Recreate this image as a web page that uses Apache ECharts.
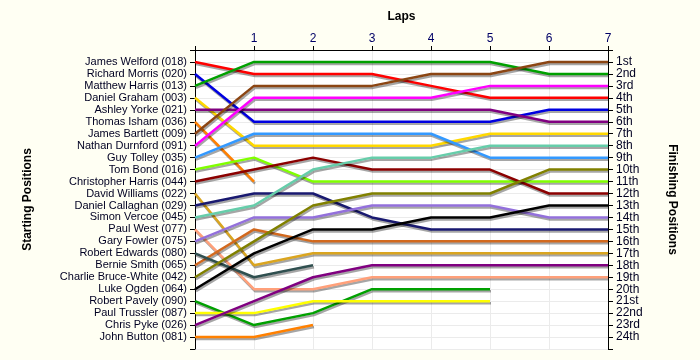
<!DOCTYPE html>
<html><head><meta charset="utf-8">
<script src="https://cdn.jsdelivr.net/npm/echarts@6/dist/echarts.min.js"></script>
<style>html,body{margin:0;padding:0;background:#FFFFF3;}#c{width:700px;height:360px;}</style>
</head><body><div id="c"></div>
<script>
const drivers = ["James Welford (018)","Richard Morris (020)","Matthew Harris (013)","Daniel Graham (003)","Ashley Yorke (021)","Thomas Isham (036)","James Bartlett (009)","Nathan Durnford (091)","Guy Tolley (035)","Tom Bond (016)","Christopher Harris (044)","David Williams (022)","Daniel Callaghan (029)","Simon Vercoe (045)","Paul West (077)","Gary Fowler (075)","Robert Edwards (080)","Bernie Smith (065)","Charlie Bruce-White (042)","Luke Ogden (064)","Robert Pavely (090)","Paul Trussler (087)","Chris Pyke (026)","John Button (081)"];
const finishLabels = ["1st","2nd","3rd","4th","5th","6th","7th","8th","9th","10th","11th","12th","13th","14th","15th","16th","17th","18th","19th","20th","21st","22nd","23rd","24th"];
const laps = [0,1,2,3,4,5,6,7];
// position of each driver after each lap (index = lap)
const positions = [
  [1,2,2,2,3,4,4,4],
  [2,6,6,6,6,6,5,5],
  [3,1,1,1,1,1,2,2],
  [4,8,8,8,8,7,7,7],
  [5,5,5,5,5,5,6,6],
  [6,11],
  [7,3,3,3,2,2,1,1],
  [8,4,4,4,4,3,3,3],
  [9,7,7,7,7,9,9,9],
  [10,9,11,11,11,11,11,11],
  [11,10,9,10,10,10,12,12],
  [12,18,17,17,17,17,17,17],
  [13,12,12,14,15,15,15,15],
  [14,13,10,9,9,8,8,8],
  [15,20,20,19,19,19,19,19],
  [16,14,14,13,13,13,14,14],
  [18,15,16,16,16,16,16,16],
  [17,19,18],
  [19,16,13,12,12,12,10,10],
  [20,17,15,15,14,14,13,13],
  [21,23,22,20,20,20],
  [22,22,21,21,21,21],
  [23,21,19,18,18,18,18,18],
  [24,24,23]
];
const colors = ["#FF0000","#0000E0","#00A000","#FFD800","#800080","#FF8000","#8B4513","#FF00FF","#3399FF","#80FF00","#8B0000","#DAA520","#191970","#66CDAA","#FFA07A","#9370DB","#D2691E","#2F4F4F","#808000","#000000","#00A000","#FFFF00","#800080","#FF8000"];

const chart = echarts.init(document.getElementById('c'));
const font = '"Liberation Sans", Arial, sans-serif';
const series = positions.map((p, i) => ({
  name: drivers[i],
  type: 'line',
  data: p.map((v, k) => [laps[k], v]),
  showSymbol: false,
  symbol: 'none',
  silent: true,
  animation: false,
  lineStyle: {color: colors[i], width: 2.5, shadowColor: 'rgba(0,0,0,0.35)', shadowBlur: 0, shadowOffsetX: 1, shadowOffsetY: 2}
}));
chart.setOption({
  backgroundColor: '#FFFFF3',
  animation: false,
  grid: {left: 195, right: 92, top: 50, bottom: 11, show: true, backgroundColor: '#FFFFFF', borderWidth: 0},
  xAxis: {
    type: 'value', position: 'top', min: 0, max: 7, interval: 1,
    name: 'Laps', nameLocation: 'middle', nameGap: 27,
    nameTextStyle: {fontFamily: font, fontSize: 12, fontWeight: 'bold', color: '#000'},
    axisLine: {show: true, lineStyle: {color: '#000', width: 1}},
    axisTick: {show: true, length: 4, lineStyle: {color: '#000'}},
    axisLabel: {fontFamily: font, fontSize: 12, color: '#000066', margin: 5, formatter: v => v === 0 ? '' : String(v)},
    splitLine: {show: true, lineStyle: {color: '#EBEBEB', width: 1}}
  },
  yAxis: [
    {
      type: 'value', inverse: true, min: 0, max: 25, interval: 1, position: 'left',
      name: 'Starting Positions', nameLocation: 'middle', nameGap: 161, nameRotate: 90,
      nameTextStyle: {fontFamily: font, fontSize: 12, fontWeight: 'bold', color: '#000'},
      axisLine: {show: true, lineStyle: {color: '#000', width: 1}},
      axisTick: {show: true, length: 5, lineStyle: {color: '#000'}},
      axisLabel: {fontFamily: font, fontSize: 11, color: '#000022', margin: 8, formatter: v => (v >= 1 && v <= drivers.length) ? drivers[v - 1] : ''},
      splitLine: {show: true, lineStyle: {color: '#EBEBEB', width: 1}}
    },
    {
      type: 'value', inverse: true, min: 0, max: 25, interval: 1, position: 'right',
      name: 'Finishing Positions', nameLocation: 'middle', nameGap: 58, nameRotate: -90,
      nameTextStyle: {fontFamily: font, fontSize: 12, fontWeight: 'bold', color: '#000'},
      axisLine: {show: true, lineStyle: {color: '#000', width: 1}},
      axisTick: {show: true, length: 5, lineStyle: {color: '#000'}},
      axisLabel: {fontFamily: font, fontSize: 12, color: '#000022', margin: 8, formatter: v => (v >= 1 && v <= finishLabels.length) ? finishLabels[v - 1] : ''},
      splitLine: {show: false}
    }
  ],
  series: series
});
</script></body></html>
